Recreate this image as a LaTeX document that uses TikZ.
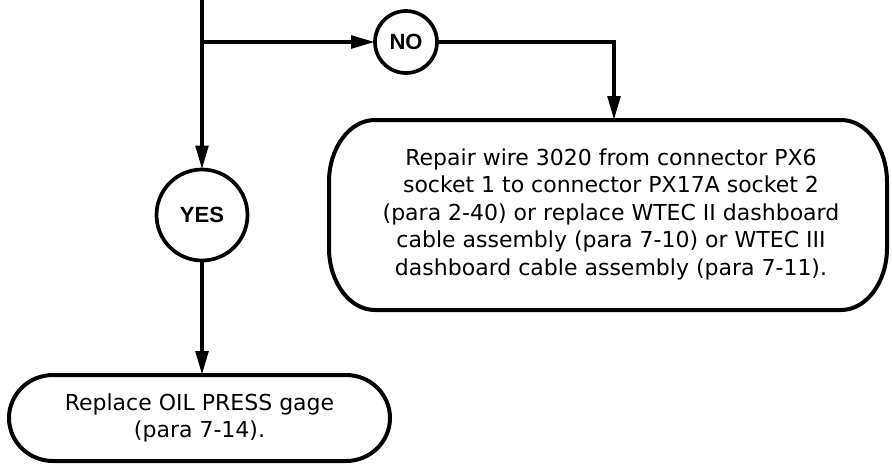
\documentclass[tikz,border=0pt]{standalone}
\usepackage{fontspec}
\setmainfont{DejaVu Sans}
\newfontfamily\lblfont{Liberation Sans}
\usetikzlibrary{arrows.meta,calc}
\tikzset{
  flow/.style={line width=4pt, -{Triangle[length=24pt,width=12.5pt]}},
  decision/.style={circle, draw, line width=3.7pt, inner sep=0pt, outer sep=0pt,
    font=\lblfont\bfseries\fontsize{22}{26}\selectfont},
  actionbox/.style={rectangle, draw=none, inner sep=0pt, outer sep=0pt, align=center,
    font=\fontsize{22}{27.5}\selectfont},
  boxline/.style={line width=4pt, line join=round}
}
\newcommand\stadiumoutline[3]{%
  \draw[boxline] ([xshift=#2]#1.north west) -- ([xshift=-#2]#1.north east)
    arc[start angle=90,end angle=0,x radius=#2,y radius=#3]
    -- ([yshift=#3]#1.south east)
    arc[start angle=0,end angle=-90,x radius=#2,y radius=#3]
    -- ([xshift=#2]#1.south west)
    arc[start angle=270,end angle=180,x radius=#2,y radius=#3]
    -- ([yshift=-#3]#1.north west)
    arc[start angle=180,end angle=90,x radius=#2,y radius=#3] -- cycle;}
\begin{document}
\begin{tikzpicture}[x=1pt,y=1pt]
\useasboundingbox (0,0) rectangle (892,-467);
\coordinate (top) at (202,0);
\coordinate (branch) at (202,-42);
\node[decision, minimum size=62pt] (no) at (406,-42) {NO};
\node[decision, minimum size=91pt] (yes) at (202,-215) {YES};
\node[actionbox, minimum width=558pt, minimum height=190pt] (repair) at (608,-215) {};
\node[actionbox] (repairtext) at (611,-214)
  {Repair wire 3020 from connector PX6\\socket 1 to connector PX17A socket 2\\(para 2-40) or replace WTEC II dashboard\\cable assembly (para 7-10) or WTEC III\\dashboard cable assembly (para 7-11).};
\node[actionbox, minimum width=381pt, minimum height=86pt] (gage) at (199.5,-418)
  {Replace OIL PRESS gage\\(para 7-14).};
\stadiumoutline{repair}{46pt}{62pt}
\stadiumoutline{gage}{44pt}{43pt}
\draw[flow] (top) -- (yes.north);
\draw[flow] (branch) -- (no.west);
\draw[flow] (no.east) -| ([xshift=6pt]repair.north);
\draw[flow] (yes.south) -- (yes.south |- gage.north);
\end{tikzpicture}
\end{document}
